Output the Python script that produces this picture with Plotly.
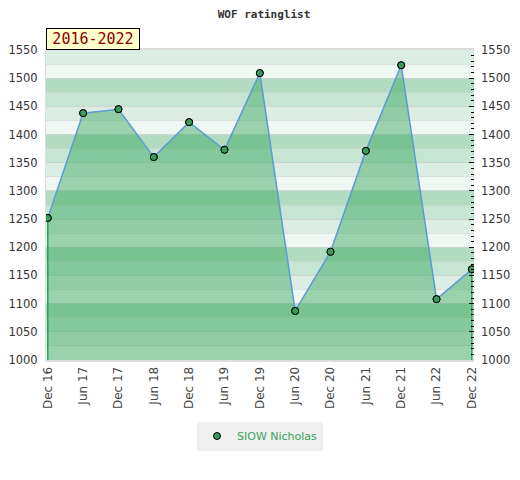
import plotly.graph_objects as go

# ---- data ----
periods = ["Dec 16", "Jun 17", "Dec 17", "Jun 18", "Dec 18", "Jun 19", "Dec 19",
           "Jun 20", "Dec 20", "Jun 21", "Dec 21", "Jun 22", "Dec 22"]
ratings = [1252, 1438, 1445, 1360, 1422, 1373, 1509, 1087, 1192, 1371, 1523, 1108, 1161]
player = "SIOW Nicholas"
title_text = "WOF ratinglist"
period_label = "2016-2022"
y_min, y_max = 1000, 1550
y_ticks = list(range(1000, 1551, 50))

W, H = 512, 472  # page body adds an 8px margin

fig = go.Figure()

fig.add_trace(go.Scatter(
    x=periods, y=ratings, mode="lines+markers", fill="tozeroy",
    fillcolor="rgba(50,165,90,0.45)",
    line=dict(color="#5b9bd5", width=1.5),
    marker=dict(color="#3a9a5c", size=7, line=dict(color="black", width=1)),
    showlegend=False, name=player))

# drop lines at first and last point
for i in (0, len(periods) - 1):
    fig.add_trace(go.Scatter(
        x=[periods[i], periods[i]], y=[y_min, ratings[i]], mode="lines",
        line=dict(color="#2ca05a", width=1.5), hoverinfo="skip", showlegend=False))

# re-draw markers on top of drop lines
fig.add_trace(go.Scatter(
    x=periods, y=ratings, mode="markers", showlegend=False, hoverinfo="skip",
    marker=dict(color="#3a9a5c", size=7, line=dict(color="black", width=1))))

# legend-only marker entry
fig.add_trace(go.Scatter(
    x=[None], y=[None], mode="markers", name=player,
    marker=dict(color="#3a9a5c", size=7, line=dict(color="black", width=1))))

# invisible trace for right axis
fig.add_trace(go.Scatter(x=[periods[0]], y=[y_min], yaxis="y2", mode="markers",
                         marker=dict(opacity=0), showlegend=False, hoverinfo="skip"))

# striped background bands (25-unit bands, pattern repeats every 100)
band_cols = ["#b2dcc2", "#c6e6d3", "#dcede3", "#eef7f2"]  # from top of each 100 block
shapes = []
for lo in range(y_min, y_max, 25):
    hi = lo + 25
    idx = ((100 - (hi % 100)) % 100) // 25
    shapes.append(dict(type="rect", xref="paper", x0=0, x1=1, yref="y", y0=lo, y1=hi,
                       fillcolor=band_cols[idx], line=dict(width=0), layer="below"))

fig.update_layout(
    width=W, height=H,
    margin=dict(l=38, r=46, t=42, b=120),
    paper_bgcolor="white", plot_bgcolor="white",
    shapes=shapes,
    title=dict(text="<b>" + title_text + "</b>", x=0.5, xanchor="center",
               yref="container", y=1 - 6 / H, yanchor="middle",
               font=dict(family="DejaVu Sans Mono", size=11, color="#333")),
    xaxis=dict(type="category", categoryorder="array", categoryarray=periods,
               range=[-0.05, len(periods) - 1 + 0.06], automargin=False,
               tickangle=-90, showgrid=False, ticks="",
               tickfont=dict(family="DejaVu Sans", size=12, color="#444"),
               showline=True, linecolor="#dddddd", linewidth=2, mirror=True),
    yaxis=dict(range=[y_min, y_max], tickmode="array", tickvals=y_ticks, ticks="",
               automargin=False,
               showgrid=True, gridcolor="rgba(200,200,200,0.45)", gridwidth=1,
               minor=dict(dtick=25, tick0=1000, showgrid=True,
                          gridcolor="rgba(200,200,200,0.45)", ticks=""),
               tickfont=dict(family="DejaVu Sans", size=11.5, color="#333"),
               ticklabelstandoff=5,
               showline=True, linecolor="#dddddd", linewidth=1, zeroline=False),
    yaxis2=dict(range=[y_min, y_max], tickmode="array", tickvals=y_ticks,
                overlaying="y", side="right", automargin=False,
                ticks="inside", ticklen=5, tickcolor="black", tickwidth=1,
                minor=dict(dtick=10, tick0=1000, ticks="inside", ticklen=3,
                           tickcolor="black", showgrid=False),
                showgrid=False, zeroline=False,
                tickfont=dict(family="DejaVu Sans", size=11.5, color="#333"),
                ticklabelstandoff=6),
    legend=dict(orientation="h", x=0.5, xanchor="center", yref="container",
                y=1 - 428 / H, yanchor="middle", bgcolor="#f0f0f0",
                font=dict(family="DejaVu Sans", size=11, color="#3aa35c")),
    annotations=[dict(text=period_label, xref="paper", yref="paper", x=0, y=1,
                      xanchor="left", yanchor="bottom", showarrow=False,
                      width=90, height=18, align="center",
                      font=dict(family="DejaVu Sans Mono", size=15, color="#8b0000"),
                      bgcolor="#ffffcc", bordercolor="black", borderwidth=1, borderpad=1)],
)

fig.write_html("out.html")
